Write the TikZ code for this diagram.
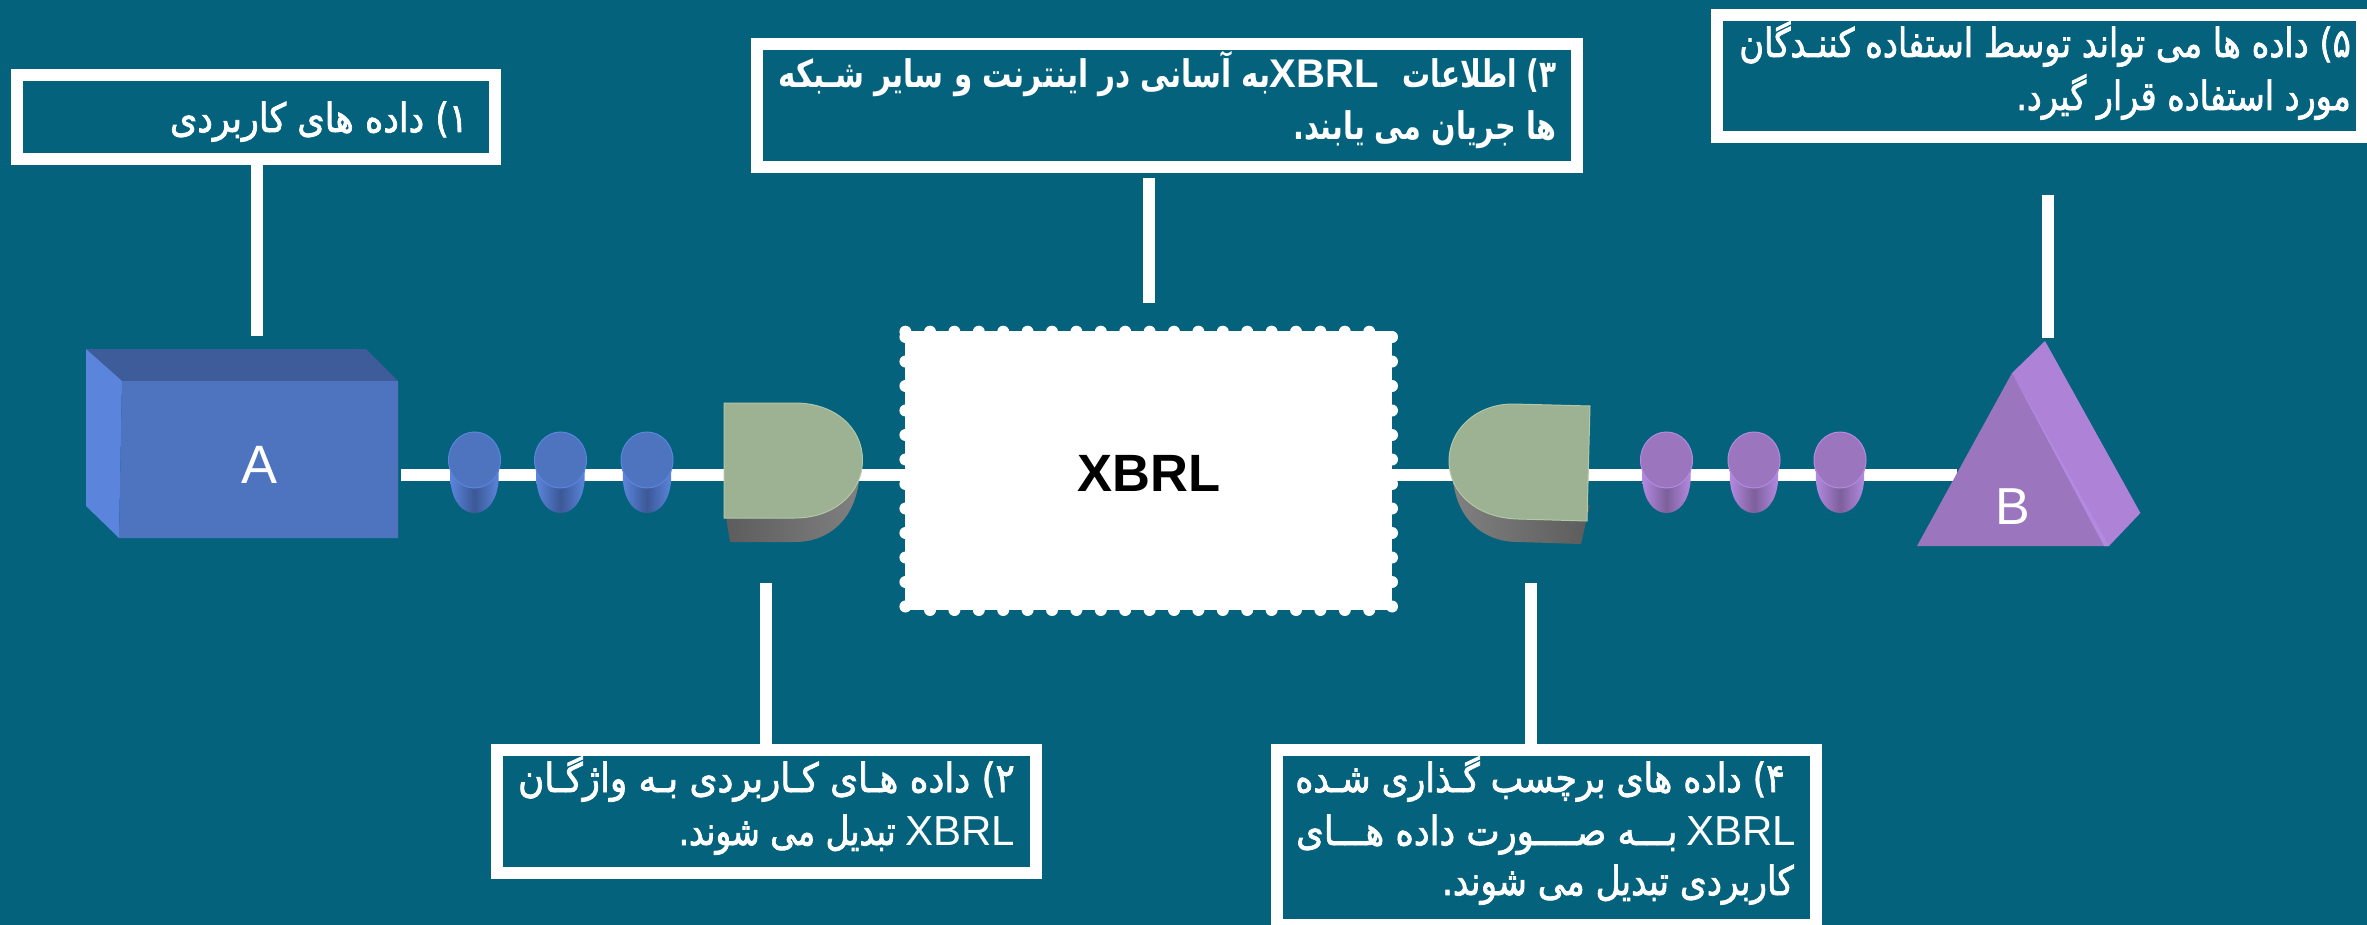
\documentclass[tikz,border=0pt]{standalone}
\usepackage{fontspec}
\setmainfont{Liberation Sans}
\newfontfamily\arabf[Script=Arabic,FakeBold=2]{DejaVu Sans}
\newfontfamily\arabb[Script=Arabic]{DejaVu Sans Bold}
\TeXXeTstate=1
\definecolor{bgc}{RGB}{4,98,125}
\definecolor{bfront}{RGB}{78,116,191}
\definecolor{btop}{RGB}{63,92,154}
\definecolor{bleft}{RGB}{91,133,220}
\definecolor{bdark}{RGB}{60,88,150}
\definecolor{pfront}{RGB}{155,117,190}
\definecolor{pright}{RGB}{174,130,214}
\definecolor{pedge}{RGB}{180,138,225}
\definecolor{pdark}{RGB}{125,95,155}
\definecolor{gfront}{RGB}{157,177,147}
\definecolor{gedge}{RGB}{178,200,168}
\definecolor{gdark}{RGB}{92,92,92}
\definecolor{glight}{RGB}{128,128,128}
\tikzset{
  lbl/.style={draw=white,line width=12pt,fill=bgc,inner sep=0pt},
  wire/.style={draw=white,line width=12pt},
  ln/.style={anchor=base east,inner sep=0pt,text=white,font=\fontsize{40}{46}\selectfont\arabf},
  lnb/.style={anchor=base east,inner sep=0pt,text=white,font=\fontsize{38}{44}\selectfont\arabb},
  lt/.style={anchor=base east,inner sep=0pt,text=white,font=\fontsize{42}{46}\selectfont},
  ltb/.style={anchor=base east,inner sep=0pt,text=white,font=\fontsize{40}{46}\selectfont\bfseries},
}
\newcommand{\cyl}[4]{%
  \shade[left color=#2,right color=#2,middle color=#3]
    (#1-24.5,462) -- (#1-24,482) .. controls (#1-22,502) and (#1-12,513) .. (#1,513)
    .. controls (#1+12,513) and (#1+22,502) .. (#1+24,482) -- (#1+24.5,462) -- cycle;
  \fill[#4,draw=#2,line width=1pt] (#1,460) ellipse[x radius=26,y radius=28];
}
\begin{document}
\begin{tikzpicture}[x=1pt,y=-1pt]
\useasboundingbox (0,0) rectangle (2367,925);
\fill[bgc] (0,0) rectangle (2367,925);

% XBRL box
\node[fill=white,inner sep=0pt,minimum width=486.5pt,minimum height=279pt,text=black] (xbrl) at (1148.7,470.5) {};
\node[inner sep=0pt,text=black,font=\fontsize{52.5}{60}\selectfont\bfseries] (xt) at (1149,473) {XBRL};
\foreach \k in {0,...,18}{
  \fill[white] ({930+24.4*\k},331.7) circle[radius=6];
  \fill[white] ({930+24.4*\k},610) circle[radius=6];
}
\foreach \k in {0,...,11}{
  \fill[white] (905.4,{337+24.5*\k}) circle[radius=6];
  \fill[white] (1392,{337+24.5*\k}) circle[radius=6];
}
\fill[white] (905.4,331.7) circle[radius=6];

% main line
\coordinate (ws) at (401,474.5);
\coordinate (we) at (1957,474.5);
\draw[wire] (ws) -- (ws -| xbrl.west);
\draw[wire] (we) -- (we -| xbrl.east);

% box A
\fill[btop] (86,349) -- (366,349) -- (398,381) -- (122,381) -- cycle;
\fill[bleft] (86,349) -- (122,381) -- (119,538) -- (86,506) -- cycle;
\fill[bfront] (122,381) -- (398,381) -- (398,538) -- (119,538) -- cycle;
\node[inner sep=0pt,text=white,font=\fontsize{54}{60}\selectfont] (A) at (260,465) {A};

% blue cylinders
\cyl{474.5}{bleft}{bdark}{bfront}
\cyl{560.5}{bleft}{bdark}{bfront}
\cyl{647}{bleft}{bdark}{bfront}

% left gate
\shade[left color=gdark,right color=glight] (724,505) -- (730,542) -- (795,542) .. controls (830,542) and (855,518) .. (859,480) -- cycle;
\fill[gfront,draw=gedge,line width=1pt] (724,403) -- (795,403) .. controls (835,403) and (862.5,428) .. (862.5,460) .. controls (862.5,492) and (835,518) .. (795,518) -- (724,518) -- cycle;

% right gate
\shade[left color=glight,right color=gdark] (1453,480) .. controls (1457,518) and (1482,542) .. (1518,542) -- (1581,544) -- (1590,505) -- cycle;
\fill[gfront,draw=gedge,line width=1pt] (1590,406) -- (1513,404) .. controls (1476,404) and (1449,430) .. (1449,461) .. controls (1449,492) and (1476,518) .. (1518,519) -- (1587,521) -- cycle;

% purple cylinders
\cyl{1666.5}{pedge}{pdark}{pfront}
\cyl{1754}{pedge}{pdark}{pfront}
\cyl{1840}{pedge}{pdark}{pfront}

% prism B
\fill[pright] (2045,341) -- (2140.4,513) -- (2109,546) -- (2104,546) -- (2012,373) -- cycle;
\fill[pfront] (2012,373) -- (2104,546) -- (1917,546) -- cycle;
\fill[pedge] (2012,373) -- (2016,380) -- (2109,546) -- (2104,546) -- cycle;
\node[inner sep=0pt,text=white,font=\fontsize{52}{60}\selectfont] (B) at (2013,507) {B};

% label boxes
\node[lbl,minimum width=478pt,minimum height=84pt] (b1) at (256,117) {};
\node[lbl,minimum width=538.7pt,minimum height=122.7pt] (b2) at (766.35,811.35) {};
\node[lbl,minimum width=820pt,minimum height=123pt] (b3) at (1167,106) {};
\node[lbl,minimum width=539pt,minimum height=174.7pt] (b4) at (1546,837.35) {};
\node[lbl,minimum width=645pt,minimum height=122.5pt] (b5) at (2039,76.25) {};

% connectors
\coordinate (c1) at (257,336);
\coordinate (c2) at (766,583);
\coordinate (c3) at (1149,303);
\coordinate (c4) at (1531,583);
\coordinate (c5) at (2047.5,338);
\coordinate (c5t) at (2047.5,195);
\coordinate (c3t) at (1149,178);
\draw[wire] (c1) -- (c1 |- b1.south);
\draw[wire] (c2) -- (c2 |- b2.north);
\draw[wire] (c3) -- (c3t);
\draw[wire] (c4) -- (c4 |- b4.north);
\draw[wire] (c5) -- (c5t);

% texts
\node[ln] (t1) at (468,132) {\scalebox{.875}[1]{\beginR ۱) داده های کاربردی\endR}};
\node[ln] (t2a) at (1015,792) {\scalebox{.894}[1]{\beginR ۲) داده هـای کـاربردی بـه واژگـان\endR}};
\node[lt] (t2x) at (1015,845) {XBRL};
\node[ln] (t2b) at (896,845) {\scalebox{.82}[1]{\beginR تبدیل می شوند.\endR}};
\node[lnb] (t3a) at (1557,88) {\scalebox{.735}[1]{\beginR ۳) اطلاعات\endR}};
\node[ltb] (t3x) at (1379,88) {XBRL};
\node[lnb] (t3c) at (1271,88) {\scalebox{.774}[1]{\beginR به آسانی در اینترنت و سایر شـبکه\endR}};
\node[lnb] (t3b) at (1557,140) {\scalebox{.755}[1]{\beginR ها جریان می یابند.\endR}};
\node[ln] (t4a) at (1785,792) {\scalebox{.864}[1]{\beginR ۴) داده های برچسب گـذاری شـده\endR}};
\node[lt] (t4x) at (1796,845) {XBRL};
\node[ln] (t4b) at (1677.6,845) {\scalebox{.883}[1]{\beginR بـــه صــــورت داده هـــای\endR}};
\node[ln] (t4c) at (1794,895) {\scalebox{.857}[1]{\beginR کاربردی تبدیل می شوند.\endR}};
\node[ln] (t5a) at (2351,57) {\scalebox{.844}[1]{\beginR ۵) داده ها می تواند توسط استفاده کننـدگان\endR}};
\node[ln] (t5b) at (2351,110) {\scalebox{.835}[1]{\beginR مورد استفاده قرار گیرد.\endR}};
\end{tikzpicture}
\end{document}
